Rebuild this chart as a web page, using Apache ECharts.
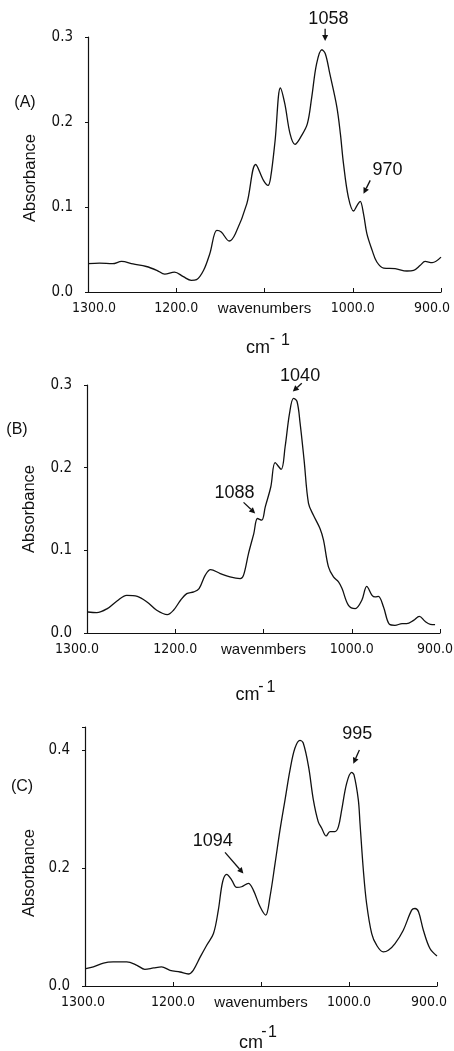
<!DOCTYPE html>
<html><head><meta charset="utf-8">
<script src="https://cdn.jsdelivr.net/npm/echarts@6/dist/echarts.min.js"></script>
<style>html,body{margin:0;padding:0;background:#fff}#c{width:454px;height:1051px}</style>
</head><body><div id="c"></div>
<script>
// ---- data ----
const wnA = [1300,1287,1272,1262,1249,1234,1222,1213,1202,1192,1183,1177,1169,1162,1154,1149,1140,1133,1120,1110,1101,1096,1093,1088,1082,1077,1071,1065.5,1058,1051.4,1046.5,1041,1035,1031,1026,1018,1014,1010.5,1005,999,995,991.6,987.8,984,978,972.7,965,952,938.6,931,923.5,918,910,900];
const absA = [0.0333,0.034,0.0333,0.036,0.033,0.030,0.0255,0.021,0.0235,0.018,0.0137,0.0145,0.0255,0.045,0.0725,0.0706,0.060,0.0686,0.104,0.150,0.131,0.1254,0.135,0.178,0.240,0.2215,0.186,0.1737,0.184,0.198,0.229,0.2685,0.285,0.280,0.2568,0.2176,0.186,0.151,0.1117,0.0953,0.102,0.1066,0.092,0.0686,0.049,0.0353,0.0282,0.0274,0.0247,0.0255,0.0314,0.036,0.0345,0.041];

const wnB = [1299,1289,1277,1266,1255,1243,1232,1221,1209,1202,1194,1187,1179,1173,1166,1160,1149,1138,1126.4,1122.6,1117,1111,1106.8,1102,1098,1091.7,1086.8,1080,1075.5,1070.5,1066,1062,1058.5,1054,1049,1043.4,1036,1032,1026.4,1020.7,1015,1011,1003.7,996,988.6,983,977,973.5,969.8,964,957.3,951,943,937.7,930,923.4,917,911,905.6];
const absB = [0.0254,0.0246,0.0295,0.0388,0.0456,0.0444,0.0376,0.0275,0.0222,0.0275,0.0396,0.0476,0.0497,0.0537,0.070,0.0767,0.0719,0.0678,0.0658,0.070,0.0961,0.1203,0.1385,0.1365,0.1526,0.1769,0.206,0.198,0.2253,0.2657,0.2839,0.280,0.2536,0.2092,0.1567,0.1425,0.1264,0.1123,0.080,0.0678,0.0618,0.0537,0.0335,0.0295,0.0396,0.0565,0.0456,0.0436,0.0444,0.0315,0.0105,0.0093,0.0113,0.0113,0.0153,0.0202,0.0141,0.0105,0.0101];

const wnC = [1299,1290.5,1279,1268,1252.6,1241,1232,1222,1213,1203.4,1192,1182.6,1177,1169,1161.7,1154,1148.5,1143.6,1139,1133.3,1127.6,1122,1114.4,1108.7,1101,1094.7,1089.8,1084,1078.4,1072.7,1067,1061.4,1055.7,1052,1046,1040.5,1035,1031,1026,1021.6,1016,1012,1008.3,1002.6,997,994.3,989.4,987.5,983.7,980,974.2,968.6,961,955.3,947.7,938.3,928.8,925,921,915.5,908,900];
const absC = [0.0295,0.0324,0.039,0.0409,0.0409,0.0352,0.0284,0.0307,0.0324,0.0267,0.0238,0.0204,0.0267,0.0494,0.0693,0.0891,0.1289,0.1771,0.1896,0.180,0.1675,0.1686,0.1743,0.1629,0.1345,0.1204,0.1516,0.2083,0.2651,0.3162,0.3673,0.4042,0.4173,0.4127,0.373,0.3162,0.2793,0.268,0.2549,0.2623,0.2623,0.2708,0.2992,0.3446,0.3628,0.3588,0.3162,0.2765,0.197,0.1402,0.0891,0.0693,0.0579,0.0607,0.0721,0.0948,0.1289,0.1317,0.126,0.0948,0.0636,0.0511];

const xTickValues = [1300,1200,1100,1000,900];
const xTickLabelsA = ['1300.0','1200.0','wavenumbers','1000.0','900.0'];
const xTickLabelsB = ['1300.0','1200.0','wavenmbers','1000.0','900.0'];
const xTickLabelsC = ['1300.0','1200.0','wavenumbers','1000.0','900.0'];
const yMaxA = 0.3, yMaxB = 0.3, yMaxC = 0.44;
const yStepA = 0.1, yStepB = 0.1, yStepC = 0.2;
const panelNames = ['(A)','(B)','(C)'];
const yTitle = 'Absorbance';

// peak annotations: label text, label position, arrow tail, arrow head (data units)
const annLabelsA = ['1058','970'];
const annTextA = [[1027.6,0.3214],[960.6,0.1431]];
const annTailA = [[1031.3,0.3097],[980.2,0.1313]];
const annHeadA = [[1031.3,0.2952],[987.8,0.1156]];
const annLabelsB = ['1040','1088'];
const annTextB = [[1058.5,0.311],[1132.8,0.1688]];
const annTailB = [[1056.6,0.302],[1122.6,0.158]];
const annHeadB = [[1066.8,0.292],[1109.4,0.1446]];
const annLabelsC = ['995','1094'];
const annTextC = [[990.5,0.428],[1154.9,0.247]];
const annTailC = [[988.2,0.401],[1140.9,0.227]];
const annHeadC = [[995.1,0.3775],[1120,0.191]];

// ---- layout / style ----
const FONT = '"Liberation Sans", Arial, sans-serif';
const NARROW = '"DejaVu Sans Condensed", "Liberation Sans", sans-serif';
const TICK_SIZE = 14;
const INK = '#111';
const grids = [
  {left: 88, top: 37, width: 353, height: 255},
  {left: 87, top: 385, width: 353, height: 248},
  {left: 85, top: 727, width: 352, height: 259}
];
// horizontal nudges of the end tick labels (px, + = right)
const endShift = [[6,-9],[-10,-5],[-2,-8]];

function pad(s){ return s >= 0 ? [0,0,0,2*s] : [0,-2*s,0,0]; }

const chart = echarts.init(document.getElementById('c'), null, {renderer:'canvas'});
const labelSets = [xTickLabelsA, xTickLabelsB, xTickLabelsC];
const yMax = [yMaxA, yMaxB, yMaxC];
const yStep = [yStepA, yStepB, yStepC];
const series = [[wnA,absA],[wnB,absB],[wnC,absC]];

const option = {
  animation: false,
  backgroundColor: '#fff',
  grid: grids.map(g => Object.assign({containLabel:false, outerBoundsMode:'none'}, g)),
  xAxis: [0,1,2].map(i => ({
    type: 'value', gridIndex: i, min: 900, max: 1300, interval: 100, inverse: true,
    axisLine: {show: true, onZero: false, lineStyle: {color: INK, width: 1.2}},
    axisTick: {show: true, inside: true, length: 4, lineStyle: {color: INK, width: 1}},
    splitLine: {show: false},
    axisLabel: {
      show: true, interval: 0, margin: 9, color: INK, fontFamily: NARROW, fontSize: TICK_SIZE,
      formatter: v => {
        const r = Math.round(v);
        const k = xTickValues.indexOf(r);
        const t = k >= 0 ? labelSets[i][k] : '';
        if (r === 1300) return '{l|' + t + '}';
        if (r === 900) return '{r|' + t + '}';
        if (r === 1100) return '{w|' + t + '}';
        return t;
      },
      rich: {
        l: {fontFamily: NARROW, fontSize: TICK_SIZE, color: INK, padding: pad(endShift[i][0])},
        r: {fontFamily: NARROW, fontSize: TICK_SIZE, color: INK, padding: pad(endShift[i][1])},
        w: {fontFamily: FONT, fontSize: 15, color: INK}
      }
    }
  })),
  yAxis: [0,1,2].map(i => ({
    type: 'value', gridIndex: i, min: 0, max: yMax[i], interval: yStep[i],
    axisLine: {show: true, lineStyle: {color: INK, width: 1.2}},
    axisTick: {show: true, inside: false, length: 3, lineStyle: {color: INK}},
    splitLine: {show: false},
    axisLabel: {
      show: true, margin: 15, color: INK, fontFamily: NARROW, fontSize: 15,
      formatter: v => {
        const r = v / yStep[i];
        return Math.abs(r - Math.round(r)) < 1e-6 ? v.toFixed(1) : '';
      }
    }
  })),
  series: series.map((s, i) => ({
    type: 'line', xAxisIndex: i, yAxisIndex: i,
    data: s[0].map((w, j) => [w, s[1][j]]),
    smooth: 0.35, showSymbol: false, symbol: 'none', clip: false,
    lineStyle: {color: INK, width: 1.3}
  }))
};
chart.setOption(option);

// ---- annotations placed through the axes ----
function arrow(p0, p1) {
  const dx = p1[0]-p0[0], dy = p1[1]-p0[1], L = Math.hypot(dx,dy), ux = dx/L, uy = dy/L;
  const hl = 6, hw = 3;
  const bx = p1[0]-ux*hl, by = p1[1]-uy*hl;
  return [
    {type:'line', shape:{x1:p0[0], y1:p0[1], x2:bx, y2:by}, style:{stroke:INK, lineWidth:1.3}},
    {type:'polygon', shape:{points:[[p1[0],p1[1]],[bx-uy*hw,by+ux*hw],[bx+uy*hw,by-ux*hw]]}, style:{fill:INK}}
  ];
}
const ann = [
  [annLabelsA, annTextA, annTailA, annHeadA],
  [annLabelsB, annTextB, annTailB, annHeadB],
  [annLabelsC, annTextC, annTailC, annHeadC]
];
const g = [];
ann.forEach((a, i) => {
  const toPx = p => chart.convertToPixel({xAxisIndex: i, yAxisIndex: i}, p);
  a[0].forEach((txt, k) => {
    const tp = toPx(a[1][k]);
    g.push({type:'text', x: tp[0], y: tp[1], style:{text: txt, fill: INK, font: '18px ' + FONT, align:'center', verticalAlign:'middle'}});
    g.push(...arrow(toPx(a[2][k]), toPx(a[3][k])));
  });
});
// panel letters, y titles, x unit labels
const letterPos = [[25,103],[17,430],[22,787]];
const absPos = [[30,178],[29,509],[29,873]];
const cmPos = [[258,348],[247.5,695],[251,1043]];
const minusPos = [[272.5,339],[261,687],[264,1032]];
const onePos = [[285.5,341],[271,687.5],[272.5,1032.5]];
for (let i = 0; i < 3; i++) {
  g.push({type:'text', x: letterPos[i][0], y: letterPos[i][1], style:{text: panelNames[i], fill: INK, font: '16px ' + FONT, align:'center', verticalAlign:'middle'}});
  g.push({type:'text', x: absPos[i][0], y: absPos[i][1], rotation: Math.PI/2, style:{text: yTitle, fill: INK, font: '16.5px ' + FONT, align:'center', verticalAlign:'middle'}});
  g.push({type:'text', x: cmPos[i][0], y: cmPos[i][1], style:{text: 'cm', fill: INK, font: '18px ' + FONT, align:'center', verticalAlign:'middle'}});
  g.push({type:'text', x: minusPos[i][0], y: minusPos[i][1], style:{text: '-', fill: INK, font: '16px ' + FONT, align:'center', verticalAlign:'middle'}});
  g.push({type:'text', x: onePos[i][0], y: onePos[i][1], style:{text: '1', fill: INK, font: '16px ' + FONT, align:'center', verticalAlign:'middle'}});
}
chart.setOption({graphic: g});
</script>
</body></html>
